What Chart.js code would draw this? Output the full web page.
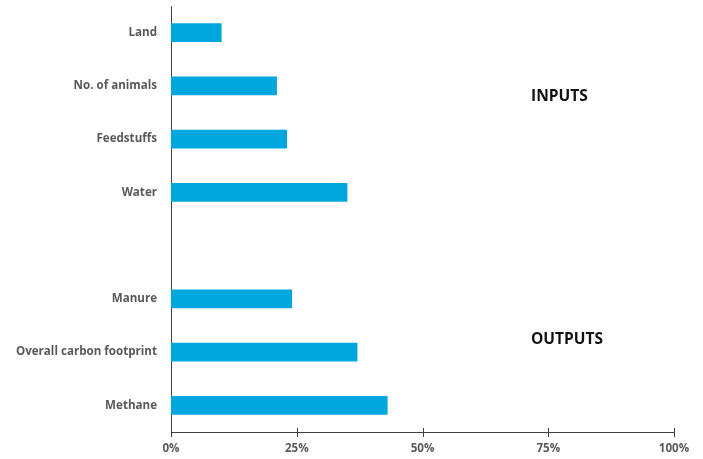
<!DOCTYPE html>
<html lang="en">
<head>
  <meta charset="UTF-8">
  <title>Inputs and outputs</title>
  <script src="https://cdn.jsdelivr.net/npm/chart.js"></script>
  <style>
    html, body {
      margin: 0;
      padding: 0;
      background: #ffffff;
    }
    #box {
      width: 703px;
      height: 459px;
    }
  </style>
</head>
<body>
  <div id="box">
    <canvas id="barChart"></canvas>
  </div>

  <script>
    // categories top to bottom, the empty one splits inputs from outputs
    const categories = ["Land", "No. of animals", "Feedstuffs", "Water", "", "Manure", "Overall carbon footprint", "Methane"];
    const values = [10, 21, 23, 35, null, 24, 37, 43];
    const tickValues = [0, 25, 50, 75, 100];
    const groupLabels = ["INPUTS", "OUTPUTS"];
    const groupRows = [1.2, 5.76];

    const labelFont = { family: "'Open Sans', sans-serif", size: 11.6, weight: "bold" };

    // tick marks that cross the bottom axis line
    const crossTicks = {
      id: "crossTicks",
      afterDraw(chart) {
        const ctx = chart.ctx;
        const x = chart.scales.x;
        const y0 = chart.chartArea.bottom;
        ctx.save();
        ctx.strokeStyle = "#404040";
        ctx.lineWidth = 1;
        tickValues.forEach(v => {
          const px = Math.round(x.getPixelForValue(v)) + 0.5;
          ctx.beginPath();
          ctx.moveTo(px, y0 - 4);
          ctx.lineTo(px, y0 + 5);
          ctx.stroke();
        });
        ctx.restore();
      }
    };

    // INPUTS / OUTPUTS captions on the right
    const groupText = {
      id: "groupText",
      afterDraw(chart) {
        const ctx = chart.ctx;
        const y = chart.scales.y;
        ctx.save();
        ctx.fillStyle = "#111111";
        ctx.font = "bold 15.5px 'Open Sans', sans-serif";
        ctx.textBaseline = "middle";
        groupLabels.forEach((t, i) => {
          ctx.fillText(t, 531, y.getPixelForValue(groupRows[i]));
        });
        ctx.restore();
      }
    };

    new Chart(document.getElementById("barChart"), {
      type: "bar",
      data: {
        labels: categories,
        datasets: [{
          data: values,
          backgroundColor: "#00A7DF",
          barThickness: 18
        }]
      },
      options: {
        indexAxis: "y",
        responsive: true,
        maintainAspectRatio: false,
        animation: false,
        layout: { padding: { top: 6, right: 29, left: 0, bottom: 0 } },
        plugins: {
          legend: { display: false },
          tooltip: { enabled: false }
        },
        scales: {
          x: {
            min: 0,
            max: 100,
            afterBuildTicks(scale) {
              scale.ticks = tickValues.map(v => ({ value: v }));
            },
            afterFit(scale) { scale.height = 27; },
            grid: { display: false, drawTicks: false },
            border: { display: true, color: "#404040", width: 1 },
            ticks: {
              color: "#595959",
              font: labelFont,
              padding: 10,
              callback: v => v + "%"
            }
          },
          y: {
            afterFit(scale) {
              scale.width = 171;
              scale.paddingTop = 0;
              scale.paddingBottom = 0;
            },
            grid: { display: false, drawTicks: false },
            border: { display: true, color: "#404040", width: 1 },
            ticks: {
              color: "#595959",
              font: labelFont,
              padding: 14,
              autoSkip: false
            }
          }
        }
      },
      plugins: [crossTicks, groupText]
    });
  </script>
</body>
</html>
